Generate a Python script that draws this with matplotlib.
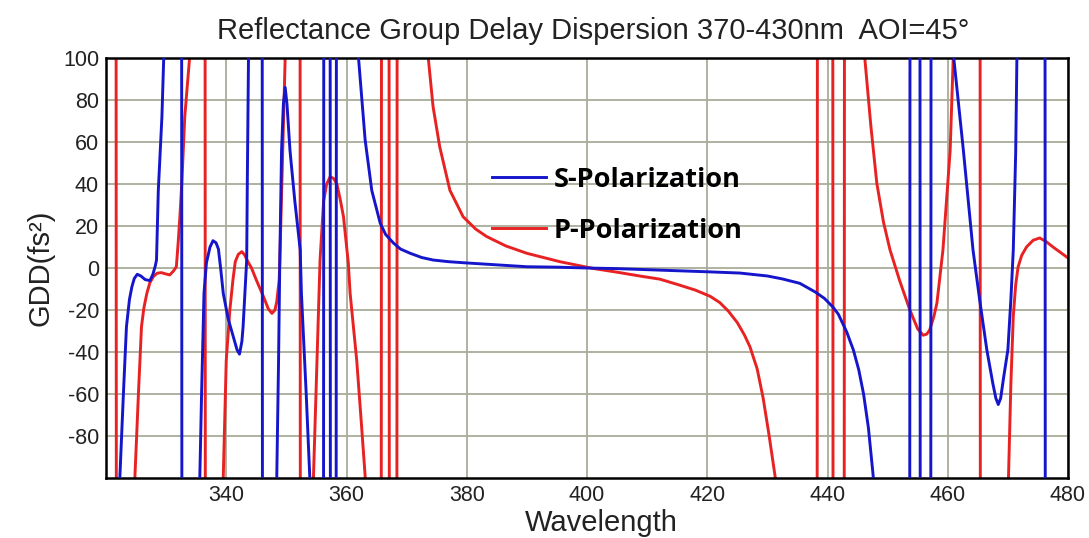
import numpy as np
import matplotlib
matplotlib.use("Agg")
import matplotlib.pyplot as plt

# ---------------- data (wavelength nm, GDD fs^2); |GDD| = 300 marks off-scale ----------------
s_wl = [320, 322.1, 322.3, 322.9, 323.4, 323.9, 324.3, 324.7, 325.2, 325.8, 326.5, 327.3, 327.8, 328.2,
        328.4, 328.7, 329.0, 329.3, 329.6, 329.8,
        332.55, 332.65,
        335.5, 335.6, 335.9, 336.3, 336.7, 337.3, 337.8, 338.3, 338.7, 339.1, 339.5, 340.3, 341.2, 341.8,
        342.2, 342.6, 342.8, 343.1, 343.4, 343.5, 343.7, 343.8,
        345.95, 346.05,
        348.3, 348.4, 348.7, 348.9, 349.2, 349.5, 349.8, 350.1, 350.6, 351.4, 352.3, 352.5, 353.3, 353.9, 354.0,
        356.15, 356.25, 357.25, 357.35, 358.25, 358.35,
        361.9, 362.0, 362.2, 363.1, 364.2, 365.6, 366.5, 367.8, 369.0, 370.6, 372.5, 374.4, 377.0, 380.0,
        385.0, 390.0, 395.0, 400.0, 405.0, 410.0, 415.0, 420.0, 425.4, 428.0, 430.0, 432.5, 435.4, 438.0,
        439.5, 440.9, 441.8, 443.2, 444.3, 445.2, 446.0, 446.8, 447.6, 447.7,
        453.65, 453.75, 455.35, 455.45, 457.15, 457.25,
        460.9, 461.0, 462.6, 464.2, 465.3, 466.5, 467.5, 468.0, 468.4, 468.8, 469.3, 470.0, 470.5, 470.9,
        471.3, 471.5, 471.6,
        476.15, 476.25, 480]
s_gdd = [-300, -300, -100, -59.5, -28, -15, -9, -5, -3, -3.8, -5.5, -6, -3, 1,
         3.8, 37, 55, 72, 100, 300,
         300, -300,
         -300, -100, -59.5, -12, 2.4, 10, 13, 12, 9, -1, -12, -24, -33, -39,
         -41, -35, -28, -12, 3.8, 40, 100, 300,
         300, -300,
         -300, -100, -44, 2.4, 56, 78, 86, 78, 56, 32, 8.6, -12, -60, -100, -300,
         -300, 300, 300, -300, -300, 300,
         300, 100, 93, 61, 37, 21.4, 16, 11.9, 9, 7, 5, 3.8, 3, 2.4,
         1.5, 0.6, 0.4, 0, -0.3, -0.8, -1.3, -1.8, -2.4, -3.2, -3.8, -5.2, -7.3, -11.5,
         -14.5, -18.6, -22, -30.5, -39, -48.5, -60, -76, -99, -300,
         -300, 300, 300, -300, -300, 300,
         300, 100, 56, 8.6, -15, -39, -55, -62, -65, -62, -52, -39, -15, 8.6,
         55, 100, 300,
         300, -300, -300]

p_wl = [320, 321.65, 321.75,
        324.7, 324.8, 325.4, 325.9, 326.3, 326.8, 327.3, 327.9, 328.5, 329.2, 329.9, 330.6, 331.2, 331.7,
        332.0, 332.3, 332.6, 333.1, 333.9, 334.0,
        336.45, 336.55,
        339.4, 339.5, 340.0, 340.6, 341.1, 341.5, 342.0, 342.6, 343.1, 343.5, 344.2, 345.0, 346.2, 347.0,
        347.6, 348.1, 348.4, 348.8, 348.9, 349.4, 349.8, 349.9,
        352.25, 352.35,
        354.4, 354.5, 355.6, 356.2, 356.7, 357.3, 357.9, 358.4, 359.0, 359.5, 360.3, 360.6, 361.7, 362.5,
        363.1, 363.2,
        365.75, 365.85, 367.05, 367.15, 368.35, 368.45,
        373.5, 373.6, 374.4, 375.5, 377.2, 379.4, 381.5, 383.3, 386.5, 390.0, 395.5, 401.0, 405.0, 409.4,
        412.1, 415.0, 418.0, 420.5, 422.1, 423.5, 425.0, 426.2, 427.1, 428.3, 429.3, 430.3, 431.3, 431.4,
        438.25, 438.35, 440.85, 440.95, 442.75, 442.85,
        446.1, 446.2, 447.2, 448.2, 449.3, 450.4, 452.0, 453.7, 455.0, 455.9, 456.5, 457.0, 457.7, 458.2,
        459.2, 460.4, 460.9, 461.0,
        465.35, 465.45,
        470.0, 470.1, 470.5, 470.9, 471.3, 471.7, 472.3, 473.1, 474.2, 475.3, 476.4, 477.5, 478.8, 480]
p_gdd = [300, 300, -300,
         -300, -100, -59.5, -28, -19, -12, -7, -4, -2.5, -2.2, -2.8, -3.3, -1.5, 0.6,
         11.9, 25, 40, 72, 100, 300,
         300, -300,
         -300, -100, -44, -20, -6, 3, 6.5, 7.8, 6, 3.5, 0, -5.7, -13.7, -19.5,
         -21.6, -20, -16, -5.7, 2.4, 56, 100, 300,
         300, -300,
         -300, -100, 3.8, 32, 40, 43.5, 42.5, 40, 32, 24.4, 2.4, -12, -44, -75,
         -99, -300,
         -300, 300, 300, -300, -300, 300,
         300, 100, 76.8, 57.8, 37, 24.4, 18.5, 15, 10.5, 7, 3, -0.2, -2, -4.1,
         -5.3, -7.8, -10.5, -13.5, -16.5, -20.5, -26, -32, -37.5, -48, -62, -80, -99.5, -300,
         -300, 300, 300, -300, -300, 300,
         300, 100, 68, 40.4, 22, 8.6, -6, -20, -29, -32, -31.5, -29.5, -23, -16.7,
         8.6, 56, 99, 300,
         300, -300,
         -300, -100, -55, -23, -8, 0.5, 6, 10, 13.2, 14.3, 12.5, 10, 7.3, 4.8]

x_ticks = [340, 360, 380, 400, 420, 440, 460, 480]
y_ticks = [-80, -60, -40, -20, 0, 20, 40, 60, 80, 100]
series_labels = ["S-Polarization", "P-Polarization"]
title = "Reflectance Group Delay Dispersion 370-430nm  AOI=45°"

# ---------------- figure ----------------
plt.rcParams['font.family'] = ['Liberation Sans', 'DejaVu Sans']
plt.rcParams['axes.unicode_minus'] = False
fig = plt.figure(figsize=(10.89, 5.38), dpi=100)
ax = fig.add_axes([106/1089, 60/538, (1068-106)/1089, (478-58)/538])

ax.plot(s_wl, s_gdd, color='#1515cc', lw=2.1, label=series_labels[0], zorder=3)
ax.plot(p_wl, p_gdd, color='#e82222', lw=2.1, label=series_labels[1], zorder=2)

ax.set_xlim(320, 480)
ax.set_ylim(-100, 100)
ax.set_xticks(x_ticks)
ax.set_yticks(y_ticks)
ax.tick_params(length=0, labelsize=15.5, pad=5, colors='#222222')
ax.grid(True, color='#a9ac98', lw=1.3)
ax.set_axisbelow(True)
for sp in ax.spines.values():
    sp.set_color('black')
    sp.set_linewidth(1.8)

ax.set_title(title, fontsize=21, pad=14, color='#222222', x=0.506)
ax.set_xlabel("Wavelength", fontsize=21, color='#222222', labelpad=2)
ax.xaxis.label.set_x(0.515)
ax.set_ylabel("GDD(fs²)", fontsize=21, color='#222222', labelpad=6)

leg = ax.legend(loc='upper left', bbox_to_anchor=(0.401, 0.741), frameon=False,
                prop={'family': 'Open Sans', 'weight': 'bold', 'size': 19.5},
                handlelength=2.0, handletextpad=0.3, labelspacing=0.92,
                borderpad=0, borderaxespad=0)
for h in leg.get_lines():
    h.set_linewidth(2.1)

fig.savefig("out.png", dpi=100)
